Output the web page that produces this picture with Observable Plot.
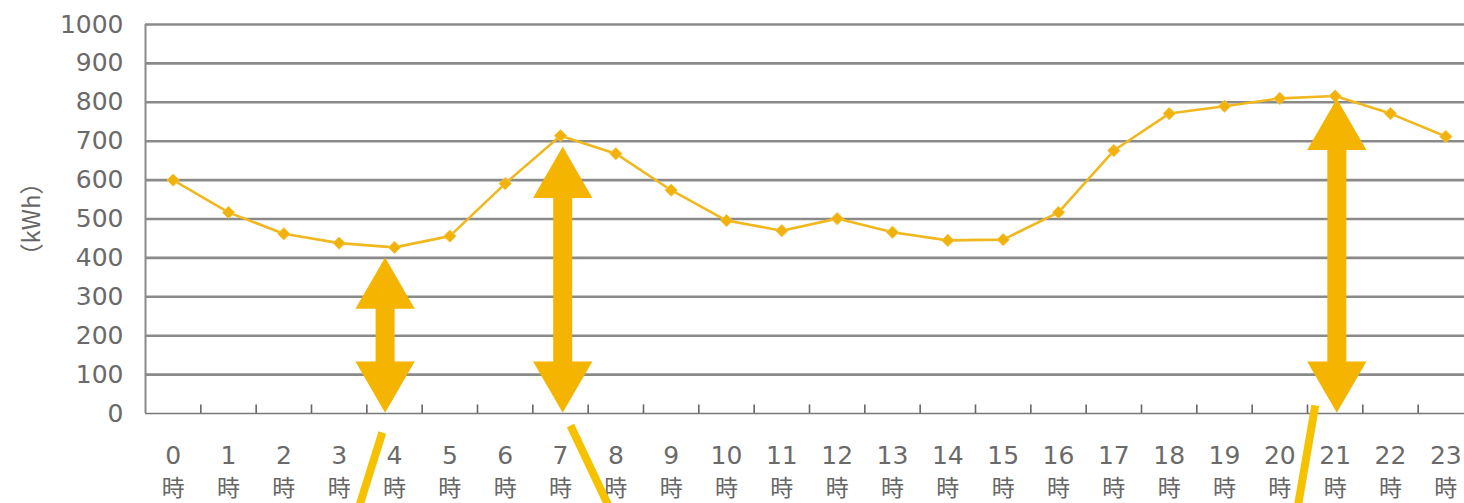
<!DOCTYPE html>
<html>
<head>
<meta charset="utf-8">
<script src="https://cdn.jsdelivr.net/npm/d3@7"></script>
<script src="https://cdn.jsdelivr.net/npm/@observablehq/plot@0.6"></script>
<style>
  html, body { margin: 0; padding: 0; background: #fff; }
  #chart svg { display: block; }
</style>
</head>
<body>
<div id="chart"></div>
<script>
// ---- data ----
const hours = [0,1,2,3,4,5,6,7,8,9,10,11,12,13,14,15,16,17,18,19,20,21,22,23];
const kwh   = [600,517,462,438,427,456,591,714,668,574,496,470,501,466,445,447,517,676,771,790,810,816,771,712];
const yTicks = [0,100,200,300,400,500,600,700,800,900,1000];
const hourSuffix = "時";
const yLabel = "（kWh）";

// annotation arrows (hour position, top of arrow in kWh)
const arrowHour = [3.83, 7.04, 21.03];
const arrowTop  = [398, 683, 806];
// leader lines below the axis (from / to, in hour & kWh units)
const leaderX1 = [3.78, 7.18, 20.64];
const leaderY1 = [-49, -31, 21];
const leaderX2 = [3.37, 7.86, 20.33];
const leaderY2 = [-235, -235, -235];

const series = hours.map((h, i) => ({hour: h, kwh: kwh[i]}));
const arrows = arrowHour.map((h, i) => ({hour: h, top: arrowTop[i]}));
const leaders = leaderX1.map((x, i) => ({x1: x, y1: leaderY1[i], x2: leaderX2[i], y2: leaderY2[i]}));
const bounds = hours.slice(0, -1).map(h => h + 0.5);

const yellow = "#F4B400";
const lineYellow = "#F0B81E";
const numFont = "'DejaVu Sans', sans-serif";
const cjkFont = "'Noto Sans CJK JP', sans-serif";

const chart = Plot.plot({
  width: 1464,
  height: 503,
  marginTop: 24,
  marginBottom: 90,
  marginLeft: 145,
  marginRight: 0,
  style: {fontFamily: numFont, background: "#fff", overflow: "visible"},
  x: {domain: [-0.5, 23.5], range: [145, 1473]},
  y: {domain: [0, 1000]},
  marks: [
    // horizontal grid lines
    Plot.ruleY(yTicks.filter(d => d > 0), {stroke: "#8a8a8a", strokeWidth: 2.6}),
    // bottom axis line
    Plot.ruleY([0], {stroke: "#7a7a7a", strokeWidth: 1.6}),
    // left axis line
    Plot.ruleX([-0.5], {stroke: "#8a8a8a", strokeWidth: 2}),
    // small ticks at category boundaries
    Plot.ruleX(bounds, {y1: 0, y2: 22, stroke: "#666", strokeWidth: 1.6}),
    // y axis labels
    Plot.axisY(yTicks, {tickSize: 0, tickPadding: 22, fontSize: 25, fill: "#6a6a6a", label: null, tickFormat: d => String(d)}),
    // x axis labels: hour number
    Plot.axisX(hours, {tickSize: 0, tickPadding: 33, fontSize: 25, fill: "#6a6a6a", label: null, tickFormat: d => String(d)}),
    // x axis labels: 時
    Plot.axisX(hours, {tickSize: 0, tickPadding: 66, fontSize: 23, fill: "#666", label: null, fontFamily: cjkFont, tickFormat: () => hourSuffix}),
    // y label
    Plot.text([yLabel], {x: () => -2.55, y: () => 500, rotate: -90, fontSize: 24, fill: "#666", fontFamily: cjkFont, clip: false}),
    // the series
    Plot.line(series, {x: "hour", y: "kwh", stroke: lineYellow, strokeWidth: 2.6}),
    Plot.dot(series, {x: "hour", y: "kwh", symbol: "diamond2", r: 5.5, fill: "#F2B20E", stroke: "#F5C43A", strokeWidth: 1}),
    // leader lines
    Plot.link(leaders, {x1: "x1", y1: "y1", x2: "x2", y2: "y2", stroke: "#F6C200", strokeWidth: 8, clip: false}),
    // arrow shafts
    Plot.ruleX(arrows, {x: "hour", y1: "top", y2: 0, stroke: yellow, strokeWidth: 19, insetTop: 45, insetBottom: 45}),
    // arrow heads
    Plot.dot(arrows, {x: "hour", y: "top", symbol: "triangle", r: 22, fill: yellow, stroke: "none", dy: 33}),
    Plot.dot(arrows, {x: "hour", y: 0, symbol: "triangle", r: 22, fill: yellow, stroke: "none", rotate: 180, dy: -35})
  ]
});
document.getElementById("chart").append(chart);
</script>
</body>
</html>
